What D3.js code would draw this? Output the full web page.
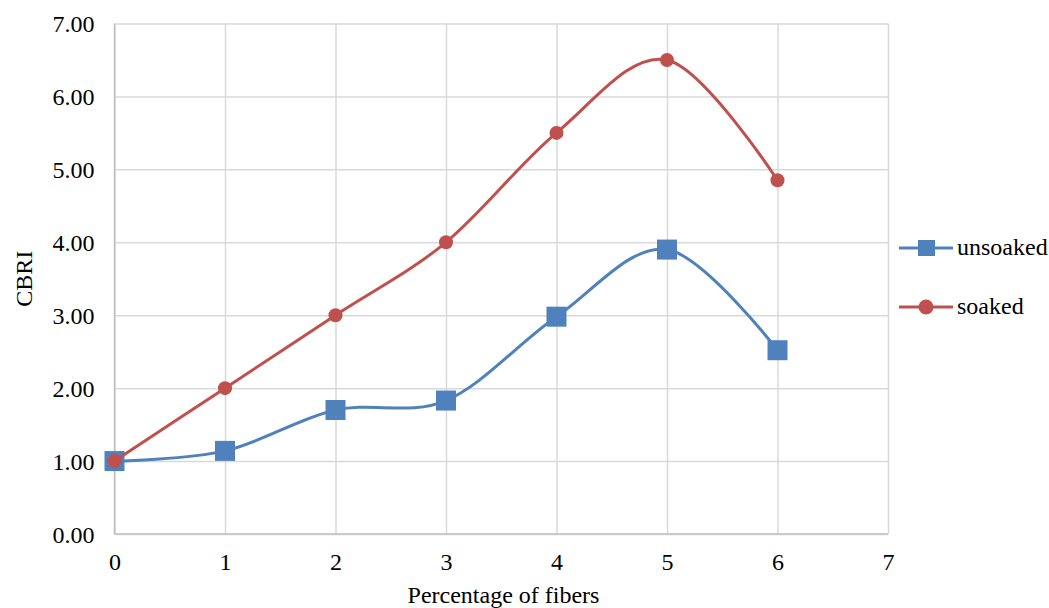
<!DOCTYPE html>
<html>
<head>
<meta charset="utf-8">
<script src="https://cdn.jsdelivr.net/npm/d3@7"></script>
<style>
  body { margin: 0; background: #fff; }
</style>
</head>
<body>
<svg width="1049" height="608"></svg>
<script>
const fibers = [0, 1, 2, 3, 4, 5, 6];
const unsoaked = [1.00, 1.14, 1.70, 1.83, 2.98, 3.90, 2.52];
const soaked = [1.00, 2.00, 3.00, 4.00, 5.50, 6.50, 4.85];
const xTicks = [0, 1, 2, 3, 4, 5, 6, 7];
const yTicks = [0, 1, 2, 3, 4, 5, 6, 7];

const svg = d3.select('svg');
const margin = { top: 23.5, left: 114.5, right: 161, bottom: 74 };
const width = +svg.attr('width');
const height = +svg.attr('height');
const innerWidth = width - margin.left - margin.right;
const innerHeight = height - margin.top - margin.bottom;
const serif = 'Liberation Serif';
const fontSize = 24;

const xScale = d3.scaleLinear().domain([0, 7]).range([0, innerWidth]);
const yScale = d3.scaleLinear().domain([0, 7]).range([innerHeight, 0]);

const g = svg.append('g')
  .attr('transform', `translate(${margin.left},${margin.top})`);

// gridlines + tick labels
const yAxis = d3.axisLeft(yScale)
  .tickValues(yTicks)
  .tickFormat(d3.format('.2f'))
  .tickSize(-innerWidth)
  .tickPadding(20);

const yAxisG = g.append('g').call(yAxis);
yAxisG.select('.domain').remove();
yAxisG.selectAll('line').attr('stroke', '#d9d9d9').attr('stroke-width', 1.5);
yAxisG.selectAll('text')
  .attr('font-family', serif).attr('font-size', fontSize)
  .attr('fill', '#000').attr('dy', '0.35em');

const xAxis = d3.axisBottom(xScale)
  .tickValues(xTicks)
  .tickFormat(d3.format('d'))
  .tickSize(-innerHeight)
  .tickPadding(19);

const xAxisG = g.append('g').call(xAxis)
  .attr('transform', `translate(0,${innerHeight})`);
xAxisG.select('.domain').remove();
xAxisG.selectAll('line').attr('stroke', '#d9d9d9').attr('stroke-width', 1.5);
xAxisG.selectAll('text')
  .attr('font-family', serif).attr('font-size', fontSize)
  .attr('fill', '#000');

// axis lines
g.append('line')
  .attr('x1', 0).attr('x2', 0).attr('y1', 0).attr('y2', innerHeight)
  .attr('stroke', '#bfbfbf').attr('stroke-width', 1.5);
g.append('line')
  .attr('x1', 0).attr('x2', innerWidth).attr('y1', innerHeight).attr('y2', innerHeight)
  .attr('stroke', '#bfbfbf').attr('stroke-width', 1.5);

const line = d3.line()
  .x((d, i) => xScale(fibers[i]))
  .y(d => yScale(d))
  .curve(d3.curveCardinal.tension(0));

const blue = '#4f81bd';
const red = '#c0504d';

g.append('path').datum(unsoaked)
  .attr('d', line).attr('fill', 'none')
  .attr('stroke', blue).attr('stroke-width', 3);

g.selectAll('.sq').data(unsoaked)
  .enter().append('rect')
    .attr('class', 'sq')
    .attr('x', (d, i) => xScale(fibers[i]) - 10)
    .attr('y', d => yScale(d) - 10)
    .attr('width', 20).attr('height', 20)
    .attr('fill', blue);

g.append('path').datum(soaked)
  .attr('d', line).attr('fill', 'none')
  .attr('stroke', red).attr('stroke-width', 3);

g.selectAll('.dot').data(soaked)
  .enter().append('circle')
    .attr('class', 'dot')
    .attr('cx', (d, i) => xScale(fibers[i]))
    .attr('cy', d => yScale(d))
    .attr('r', 7)
    .attr('fill', red);

// axis titles
svg.append('text')
  .attr('transform', `translate(32,${margin.top + innerHeight / 2}) rotate(-90)`)
  .attr('text-anchor', 'middle')
  .attr('font-family', serif).attr('font-size', fontSize)
  .text('CBRI');

svg.append('text')
  .attr('x', margin.left + 389)
  .attr('y', 603)
  .attr('text-anchor', 'middle')
  .attr('font-family', serif).attr('font-size', fontSize)
  .text('Percentage of fibers');

// legend
const legend = [
  { name: 'unsoaked', color: blue, shape: 'square', y: 248 },
  { name: 'soaked', color: red, shape: 'circle', y: 307 }
];

const lg = svg.append('g').selectAll('g').data(legend)
  .enter().append('g')
    .attr('transform', d => `translate(899,${d.y})`);

lg.append('line')
  .attr('x1', 0).attr('x2', 54)
  .attr('stroke', d => d.color).attr('stroke-width', 3);

lg.filter(d => d.shape === 'square').append('rect')
  .attr('x', 19).attr('y', -8).attr('width', 17).attr('height', 16)
  .attr('fill', d => d.color);

lg.filter(d => d.shape === 'circle').append('circle')
  .attr('cx', 27).attr('r', 7.5)
  .attr('fill', d => d.color);

lg.append('text')
  .attr('x', 58).attr('dy', '0.3em')
  .attr('font-family', serif).attr('font-size', fontSize)
  .text(d => d.name);
</script>
</body>
</html>
